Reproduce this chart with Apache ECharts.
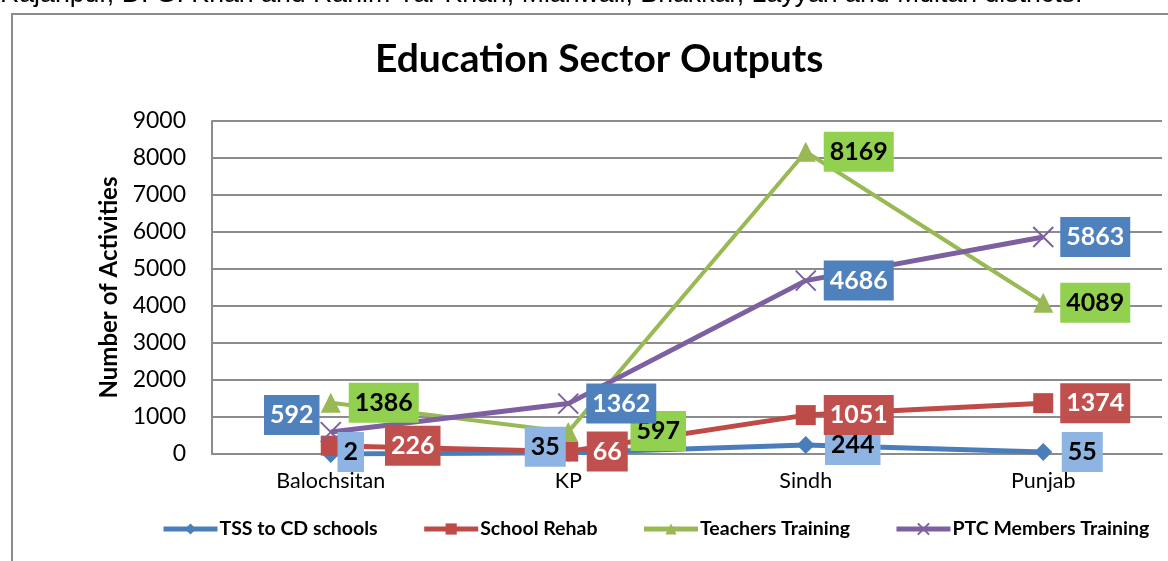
<!DOCTYPE html>
<html>
<head>
<meta charset="utf-8">
<script src="https://cdn.jsdelivr.net/npm/echarts@6/dist/echarts.min.js"></script>
<style>
  html, body { margin: 0; padding: 0; background: #fff; }
  #chart { width: 1168px; height: 561px; }
</style>
</head>
<body>
<div id="chart"></div>
<script>
// categories and values
const regions = ['Balochsitan', 'KP', 'Sindh', 'Punjab']
const tssSchools = [2, 35, 244, 55]
const schoolRehab = [226, 66, 1051, 1374]
const teachersTraining = [1386, 597, 8169, 4089]
const ptcTraining = [592, 1362, 4686, 5863]

// label box offsets from each point (centre of box minus point)
const tssOffsets = [[20, -2], [-23, -6], [47, 0], [39, 0]]
const rehabOffsets = [[82, 0], [39, 0], [53, 0], [52, 0]]
const teachOffsets = [[53, 0], [90, -1], [53, 0], [52, 0]]
const ptcOffsets = [[-39, -17], [53, 0], [53, 0], [52, 0]]

const font = 'Lato, "Open Sans", sans-serif'

// cross marker for the PTC series
const crossPath = 'path://M0,0 L10,10 M10,0 L0,10'

function lineSeries (name, values, symbol, size, width, color, z) {
  return {
    name: name,
    type: 'line',
    data: values,
    symbol: symbol,
    symbolSize: size,
    lineStyle: { width: width, color: color },
    itemStyle: { color: color },
    z: z
  }
}

// labels go in their own series so every box sits above every line
function labelSeries (values, offsets, bg, color) {
  return {
    type: 'scatter',
    silent: true,
    z: 10,
    symbolSize: 1,
    itemStyle: { color: 'rgba(0,0,0,0)', opacity: 1 },
    data: values.map((v, i) => ({ value: [i, v], label: { offset: offsets[i] } })),
    label: {
      show: true,
      position: 'inside',
      formatter: p => String(p.value[1]),
      backgroundColor: bg,
      color: color,
      opacity: 1,
      fontFamily: font,
      fontWeight: 'bold',
      fontSize: 25,
      padding: [9, 6, 6, 6]
    }
  }
}

var myChart = echarts.init(document.getElementById('chart'))
myChart.setOption({
  animation: false,
  title: {
    text: 'Education Sector Outputs',
    left: 370,
    top: 35,
    textStyle: {
      fontFamily: font,
      fontWeight: 'bold',
      fontSize: 39,
      color: '#000'
    }
  },
  graphic: [
    {
      type: 'rect',
      shape: { x: 12, y: 14, width: 1200, height: 600 },
      style: { fill: 'none', stroke: '#8c8c8c', lineWidth: 2 },
      z: -1
    },
    {
      type: 'text',
      left: 0,
      top: -19,
      style: {
        text: 'Rajanpur, D. G. Khan and Rahim Yar Khan, Mianwali, Bhakkar, Layyah and Multan districts.',
        font: '26.7px "Liberation Sans", Arial, sans-serif',
        fill: '#000'
      }
    }
  ],
  legend: {
    top: 514,
    left: 156,
    itemWidth: 54,
    itemHeight: 14,
    itemGap: 44,
    lineStyle: { width: 5 },
    textStyle: {
      fontFamily: font,
      fontWeight: 'bold',
      fontSize: 19.5,
      color: '#000',
      padding: [0, 0, 0, -3]
    },
    data: ['TSS to CD schools', 'School Rehab', 'Teachers Training', 'PTC Members Training']
  },
  grid: {
    left: 212,
    right: 6,
    top: 121,
    bottom: 107,
    containLabel: false
  },
  xAxis: {
    type: 'category',
    data: regions,
    boundaryGap: true,
    axisLine: { lineStyle: { color: '#8c8c8c', width: 2 } },
    axisTick: { show: false },
    axisLabel: {
      fontFamily: font,
      fontSize: 21.5,
      color: '#000',
      margin: 16
    }
  },
  yAxis: {
    type: 'value',
    min: 0,
    max: 9000,
    interval: 1000,
    name: 'Number of Activities',
    nameLocation: 'middle',
    nameGap: 86,
    nameTextStyle: {
      fontFamily: font,
      fontWeight: 'bold',
      fontSize: 24,
      color: '#000'
    },
    axisLine: { show: true, lineStyle: { color: '#8c8c8c', width: 2 } },
    axisTick: { show: false },
    axisLabel: {
      fontFamily: font,
      fontSize: 23,
      color: '#000',
      margin: 26,
      formatter: v => String(v)
    },
    splitLine: { lineStyle: { color: '#8c8c8c', width: 2 } }
  },
  series: [
    lineSeries('TSS to CD schools', tssSchools, 'diamond', 18, 5, '#4a7ebb', 2),
    lineSeries('School Rehab', schoolRehab, 'rect', 20, 5, '#be4b48', 3),
    lineSeries('Teachers Training', teachersTraining, 'triangle', 20, 4, '#98b954', 4),
    Object.assign(lineSeries('PTC Members Training', ptcTraining, crossPath, 20, 5, '#7d60a0', 5), {
      itemStyle: { color: 'none', borderColor: '#7d60a0', borderWidth: 2 }
    }),
    labelSeries(tssSchools, tssOffsets, '#8eb4e3', '#000'),
    labelSeries(schoolRehab, rehabOffsets, '#c0504d', '#fff'),
    labelSeries(teachersTraining, teachOffsets, '#92d050', '#000'),
    labelSeries(ptcTraining, ptcOffsets, '#4f81bd', '#fff')
  ]
})
</script>
</body>
</html>
